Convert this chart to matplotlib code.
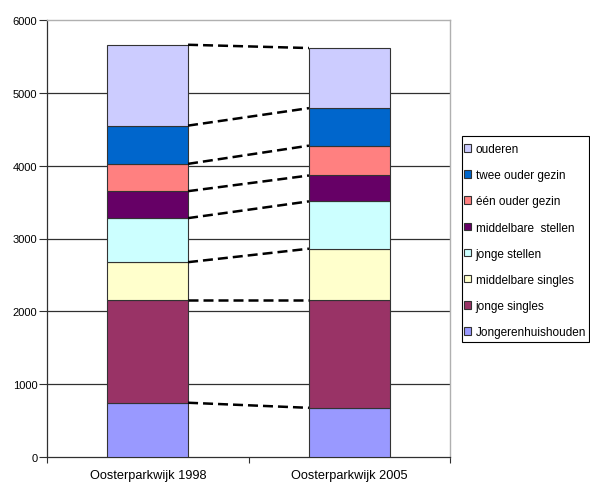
import matplotlib
matplotlib.use("Agg")
import matplotlib.pyplot as plt
from matplotlib.patches import Rectangle
import numpy as np

plt.rcParams['font.family'] = ['Liberation Sans', 'DejaVu Sans']

categories = ["Oosterparkwijk 1998", "Oosterparkwijk 2005"]
groups = ["Jongerenhuishouden", "jonge singles", "middelbare singles", "jonge stellen",
          "middelbare  stellen", "één ouder gezin", "twee ouder gezin", "ouderen"]
values_1998 = [745, 1405, 525, 605, 370, 375, 525, 1110]
values_2005 = [675, 1475, 710, 650, 355, 410, 515, 825]
colors = ["#9999FF", "#993366", "#FFFFCC", "#CCFFFF",
          "#660066", "#FF8080", "#0066CC", "#CCCCFF"]
y_ticks = [0, 1000, 2000, 3000, 4000, 5000, 6000]

W, H = 590, 485
fig = plt.figure(figsize=(W / 100, H / 100), dpi=100)
ax = fig.add_axes([47 / W, (H - 458) / H, (450 - 47) / W, (458 - 21) / H])

x = np.arange(len(categories))
bar_w = 0.4
data = np.array([values_1998, values_2005])
bottoms = np.zeros(len(categories))
handles = []
for i, g in enumerate(groups):
    h = ax.bar(x, data[:, i], bar_w, bottom=bottoms, color=colors[i],
               edgecolor="#333333", linewidth=0.8, label=g, zorder=3)
    handles.append(h)
    bottoms = bottoms + data[:, i]

# dashed connectors between the segment tops of both columns
cum = np.cumsum(data, axis=1)
for k in range(cum.shape[1]):
    ax.plot([x[0] + bar_w / 2, x[1] - bar_w / 2], [cum[0, k], cum[1, k]],
            color="black", linewidth=1.8, dashes=(4, 2), zorder=4,
            solid_capstyle="butt", dash_capstyle="butt")

ax.set_xlim(-0.5, 1.5)
ax.set_ylim(0, 6000)
ax.set_yticks(y_ticks)
ax.set_yticklabels([str(v) for v in y_ticks], fontsize=8)
for v in y_ticks[1:-1]:
    ax.axhline(v, color="#303030", linewidth=0.9, zorder=1)

ax.set_xticks([-0.5, 0.5, 1.5])
ax.set_xticklabels([])
ax.set_xticks(x, minor=True)
ax.set_xticklabels(categories, minor=True, fontsize=9.2)
ax.tick_params(axis="x", which="minor", length=0, pad=9)
ax.tick_params(axis="x", which="major", length=4, width=0.8, color="#303030")
ax.tick_params(axis="y", length=6, width=0.8, color="#303030", pad=1)

for side in ("top", "right"):
    ax.spines[side].set_color("#B0B0B0")
    ax.spines[side].set_linewidth(1.0)
for side in ("left", "bottom"):
    ax.spines[side].set_color("#303030")
    ax.spines[side].set_linewidth(0.9)

# legend box
fig.patches.append(Rectangle((462 / W, 1 - 343 / H), (589 - 462) / W, (343 - 137) / H,
                             transform=fig.transFigure, facecolor="white",
                             edgecolor="black", linewidth=0.8, zorder=5))
leg = fig.legend(handles[::-1], groups[::-1], loc="upper left",
                 bbox_to_anchor=(464 / W, 1 - 144 / H), fontsize=8.5,
                 frameon=False, labelspacing=1.2,
                 handlelength=0.6, handleheight=0.6, handletextpad=0.4,
                 borderpad=0, borderaxespad=0)
leg.set_zorder(6)

fig.savefig("out.png", dpi=100)
